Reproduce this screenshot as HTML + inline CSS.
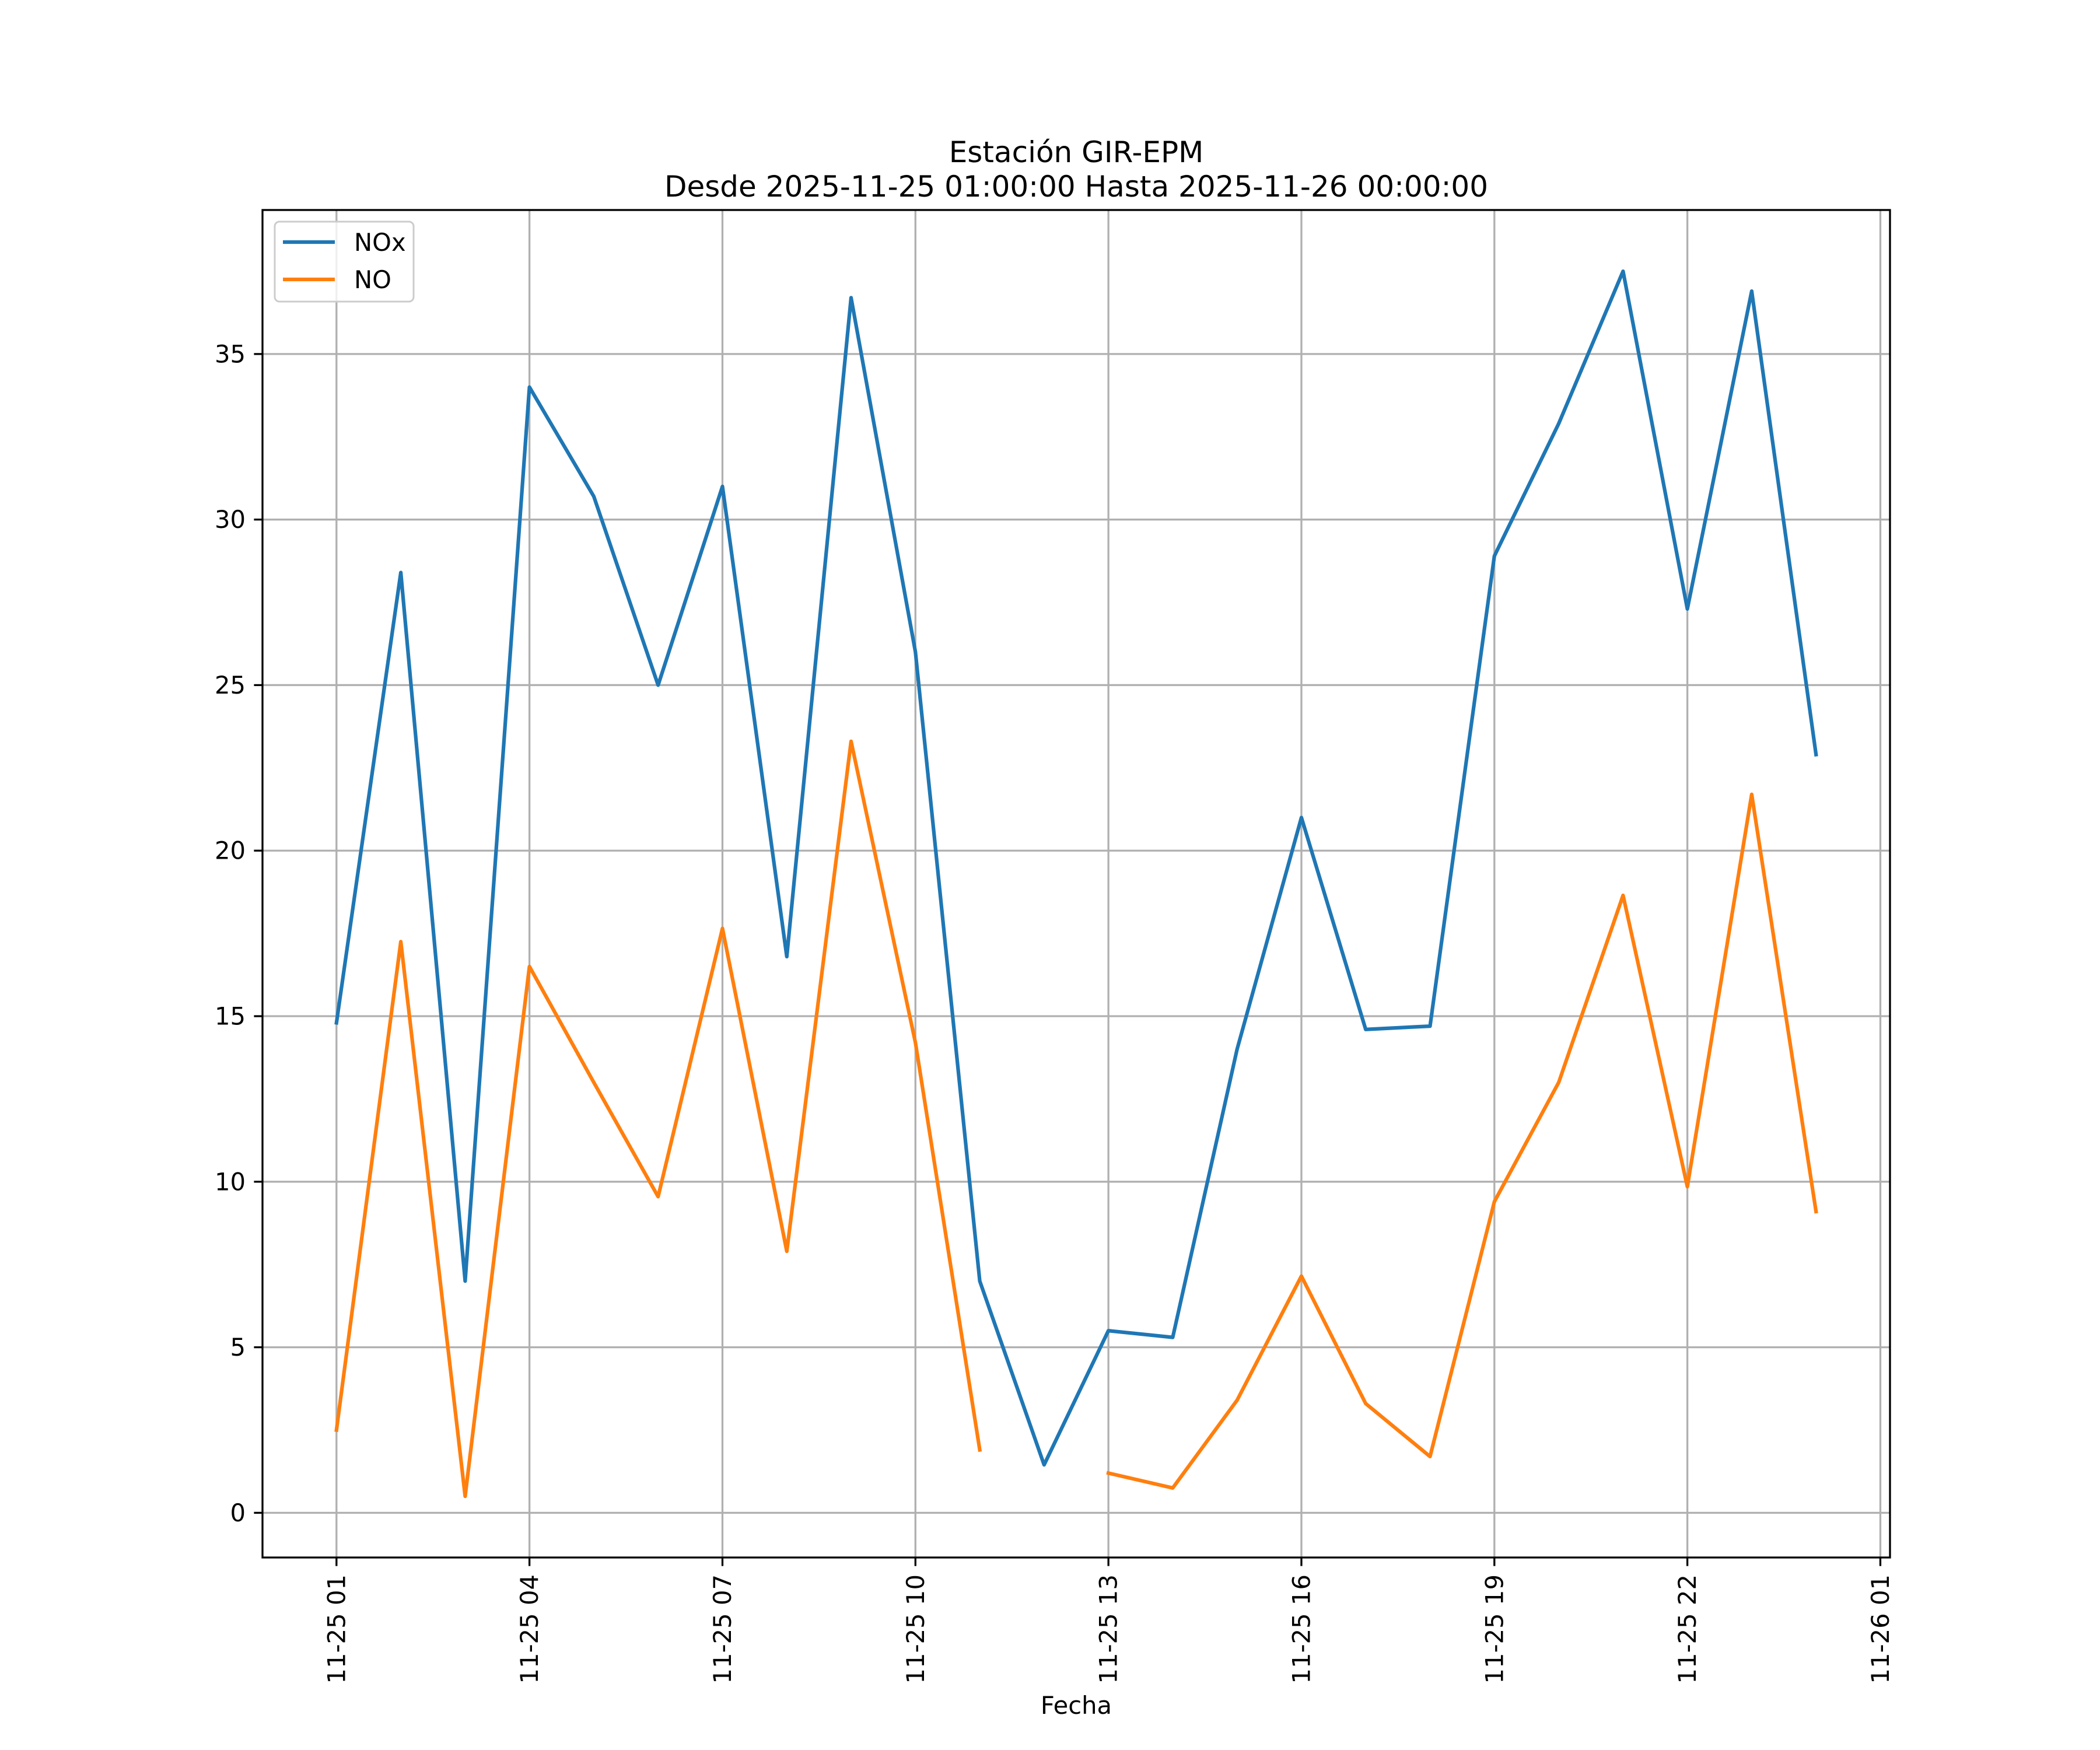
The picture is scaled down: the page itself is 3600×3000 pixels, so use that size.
<!DOCTYPE html>
<html><head><meta charset="utf-8"><style>
html,body{margin:0;padding:0;background:#fff;}
svg{display:block;font-family:"DejaVu Sans","Liberation Sans",sans-serif;}
</style></head><body>
<svg id="chart" width="3600" height="3000" viewBox="0 0 3600 3000" xmlns="http://www.w3.org/2000/svg">
<rect width="3600" height="3000" fill="#fff"/>
<g id="grid"></g>
<g id="series"></g>
<rect x="450" y="360" width="2790" height="2310" fill="none" stroke="#000" stroke-width="3.3"/>
<g id="ticks"></g>
<text x="1845" y="278" font-size="50" text-anchor="middle">Estación GIR-EPM</text>
<text x="1845" y="337" font-size="50" text-anchor="middle">Desde 2025-11-25 01:00:00 Hasta 2025-11-26 00:00:00</text>
<text x="1845" y="2938" font-size="41.7" text-anchor="middle">Fecha</text>
<g>
<rect x="471" y="380" width="238" height="137" rx="8" fill="#fff" fill-opacity="0.8" stroke="#ccc" stroke-width="3"/>
<line x1="485" y1="415" x2="574" y2="415" stroke="#1f77b4" stroke-width="6.25"/>
<text x="607" y="430" font-size="41.7">NOx</text>
<line x1="485" y1="479" x2="574" y2="479" stroke="#ff7f0e" stroke-width="6.25"/>
<text x="607" y="494" font-size="41.7">NO</text>
</g>
</svg>
<script>
const hours = [1,2,3,4,5,6,7,8,9,10,11,12,13,14,15,16,17,18,19,20,21,22,23,24];
const noxValues = [14.8,28.4,7.0,34.0,30.7,25.0,31.0,16.8,36.7,26.0,7.0,1.45,5.5,5.3,14.0,21.0,14.6,14.7,28.9,32.9,37.5,27.3,36.9,22.9];
const noValues = [2.5,17.25,0.5,16.5,13.0,9.55,17.65,7.9,23.3,14.2,1.9,null,1.2,0.75,3.4,7.15,3.3,1.7,9.4,13.0,18.65,9.85,21.7,9.1];
const xTickHours = [1,4,7,10,13,16,19,22,25];
const xTickLabels = ["11-25 01","11-25 04","11-25 07","11-25 10","11-25 13","11-25 16","11-25 19","11-25 22","11-26 01"];
const yTicks = [0,5,10,15,20,25,30,35];

const NS="http://www.w3.org/2000/svg";
const L=450,R=3240,T=360,B=2670;
const allV=noxValues.concat(noValues).filter(v=>v!==null);
const vmin=Math.min(...allV),vmax=Math.max(...allV),vr=vmax-vmin;
const y0=vmin-0.05*vr,y1=vmax+0.05*vr;
const hmin=Math.min(...hours),hmax=Math.max(...hours),hr=hmax-hmin;
const x0=hmin-0.05*hr,x1=hmax+0.05*hr;
const X=h=>L+(h-x0)/(x1-x0)*(R-L);
const Y=v=>B-(v-y0)/(y1-y0)*(B-T);
function mk(tag,attrs,parent){const e=document.createElementNS(NS,tag);for(const k in attrs)e.setAttribute(k,attrs[k]);parent.appendChild(e);return e;}
const grid=document.getElementById('grid'),ticks=document.getElementById('ticks'),series=document.getElementById('series');
xTickHours.forEach((h,i)=>{
  const x=X(h);
  const g=mk('line',{x1:x,y1:T,x2:x,y2:B,stroke:'#b0b0b0','stroke-width':3.3},grid);
  
  
  const t=mk('line',{x1:x,y1:B,x2:x,y2:B+14.6,stroke:'#000','stroke-width':3.3},ticks);
  
  
  const tx=mk('text',{x:x,y:B+29,'font-size':41.7,'text-anchor':'end','dominant-baseline':'central',transform:`rotate(-90 ${x} ${B+29})`},ticks);
  tx.textContent=xTickLabels[i];
  
  
});
yTicks.forEach(v=>{
  const y=Y(v);
  const g=mk('line',{x1:L,y1:y,x2:R,y2:y,stroke:'#b0b0b0','stroke-width':3.3},grid);
  
  
  const t=mk('line',{x1:L-14.6,y1:y,x2:L,y2:y,stroke:'#000','stroke-width':3.3},ticks);
  
  
  const tx=mk('text',{x:L-29,y:y,'font-size':41.7,'text-anchor':'end','dominant-baseline':'central'},ticks);
  tx.textContent=String(v);
  
  
});
function drawLine(vals,color,name){
  let d='',pen=false;
  vals.forEach((v,i)=>{
    if(v===null){pen=false;return;}
    d+=(pen?'L':'M')+X(hours[i]).toFixed(1)+' '+Y(v).toFixed(1)+' ';pen=true;
  });
  const p=mk('path',{d:d,fill:'none',stroke:color,'stroke-width':6.25,'stroke-linejoin':'round','stroke-linecap':'square'},series);
  
  
}
drawLine(noxValues,'#1f77b4','nox-line');
drawLine(noValues,'#ff7f0e','no-line');
</script>
</body></html>
